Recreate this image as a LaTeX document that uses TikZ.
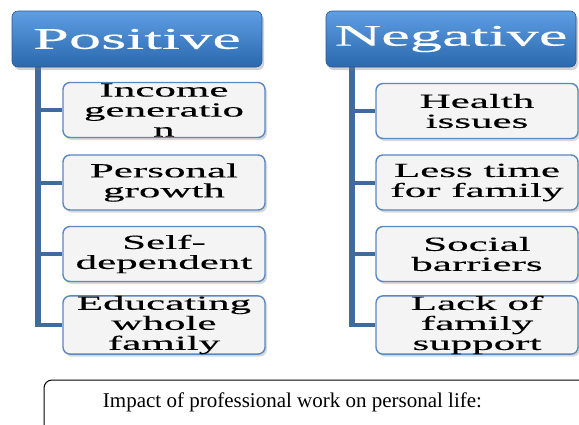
\documentclass[tikz,border=0pt]{standalone}
\usepackage{fontspec}
\setmainfont{Liberation Serif}
\newfontfamily\widefont[FakeStretch=2.15,FakeBold=0.3]{Liberation Serif}
\usetikzlibrary{shadows}
\definecolor{hdtop}{HTML}{5E9EE3}
\definecolor{hdbot}{HTML}{2B68AE}
\definecolor{barc}{HTML}{3F6B9F}
\definecolor{boxb}{HTML}{5A88C2}
\definecolor{boxf}{HTML}{F4F4F4}
\begin{document}
\begin{tikzpicture}[x=1pt,y=-1pt,
  header/.style={rounded corners=6pt, top color=hdtop, bottom color=hdbot,
    draw=hdbot!85!black, line width=0.6pt, minimum width=250pt, minimum height=56pt,
    inner sep=0pt, text=white, font=\widefont\fontsize{30}{30}\selectfont,
    drop shadow={shadow xshift=2pt, shadow yshift=-3pt, opacity=0.35}},
  item/.style={rounded corners=7pt, fill=boxf, draw=boxb, line width=1.4pt,
    minimum width=202pt, minimum height=55pt, inner sep=0pt, align=center,
    font=\widefont\fontsize{20}{20}\selectfont,
    drop shadow={shadow xshift=2pt, shadow yshift=-2.5pt, opacity=0.3}},
  bar/.style={draw=barc, line width=6pt},
  branch/.style={draw=barc, line width=4pt},
  frame/.style={draw=black, line width=1pt, rounded corners=8pt, minimum width=600pt, minimum height=70pt},
]
\useasboundingbox (0,0) rectangle (579,424);
\clip (0,0) rectangle (579,424);
\fill[white] (0,0) rectangle (579,424);

% left column
\coordinate (lt) at (38,66);
\coordinate (lb) at (38,327);
\draw[bar] (lt) -- (lb);
\node[header] (pos) at (137,39) {Positive};
\node[item] (p1) at (164,110) {Income\\generatio\\n};
\node[item] (p2) at (164,182.5) {Personal\\growth};
\node[item] (p3) at (164,254) {Self-\\dependent};
\node[item] (p4) at (164,325) {Educating\\whole\\family};
\foreach \n in {p1,p2,p3,p4} \draw[branch] (\n.west -| lt) -- (\n.west);

% right column
\coordinate (rt) at (352,66);
\coordinate (rb) at (352,327);
\draw[bar] (rt) -- (rb);
\node[header] (neg) at (451,39) {Negative};
\node[item] (n1) at (477,111) {Health\\issues};
\node[item] (n2) at (477,182.5) {Less time\\for family};
\node[item] (n3) at (477,254) {Social\\barriers};
\node[item] (n4) at (477,325) {Lack of\\family\\support};
\foreach \n in {n1,n2,n3,n4} \draw[branch] (\n.west -| rt) -- (\n.west);

% bottom caption box
\node[frame] (imp) at (344,415) {};
\node[anchor=base, font=\fontsize{21}{21}\selectfont, inner sep=0pt] (impt) at (292.5,407) {Impact of professional work on personal life:};
\end{tikzpicture}
\end{document}
